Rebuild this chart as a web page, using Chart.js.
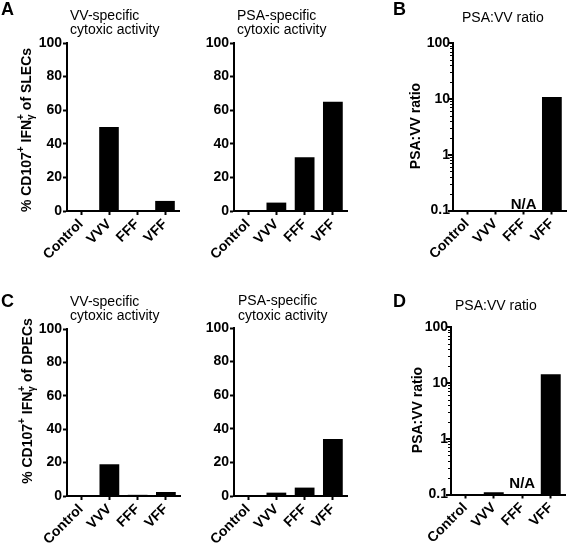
<!DOCTYPE html>
<html>
<head>
<meta charset="utf-8">
<script src="https://cdn.jsdelivr.net/npm/chart.js@4.4.1/dist/chart.umd.min.js"></script>
<style>
  html, body { margin: 0; padding: 0; background: #fff; }
  #wrap { position: relative; width: 567px; height: 543px; overflow: hidden; }
  #wrap canvas { position: absolute; left: 0; top: 0; }
</style>
</head>
<body>
<div id="wrap"></div>
<script>
// ---------------- data ----------------
const categories = ['Control', 'VVV', 'FFF', 'VFF'];
const slecVV    = [0, 50, 0, 6];
const slecPSA   = [0, 5, 32, 65];
const slecRatio = [null, 0.1, null, 10.8];   // FFF = N/A
const dpecVV    = [0, 19, 0.7, 2.4];
const dpecPSA   = [0, 2, 5, 34];
const dpecRatio = [null, 0.11, null, 14.2];  // FFF = N/A
const linearTickLabels = [0, 20, 40, 60, 80, 100];
const logTickLabels = [0.1, 1, 10, 100];
const naLabel = 'N/A';

// ---------------- layout / styles ----------------
const PAGE_W = 567, PAGE_H = 543;
const FONT = '"Liberation Sans", Arial, Helvetica, sans-serif';
Chart.defaults.font.family = FONT;
Chart.defaults.color = '#000';

const ySLEC = [{t:'% CD107'},{t:'+',sup:true},{t:' IFN'},{t:'γ',sub:true},{t:'+',sup:true,back:true},{t:' of SLECs'}];
const yDPEC = [{t:'% CD107'},{t:'+',sup:true},{t:' IFN'},{t:'γ',sub:true},{t:'+',sup:true,back:true},{t:' of DPECs'}];
const yRatio = [{t:'PSA:VV ratio'}];

const panels = [
  { data: slecVV,  log: false, area: {l: 67,  r: 179, t: 43,  b: 211},
    title: ['VV-specific', 'cytoxic activity'], titleX: 70, titleY: [20, 34],
    letter: 'A', letterXY: [1, 15], yTitle: ySLEC, yTitleXY: [26, 130] },
  { data: slecPSA, log: false, area: {l: 234, r: 347, t: 43,  b: 211},
    title: ['PSA-specific', 'cytoxic activity'], titleX: 237, titleY: [20, 34] },
  { data: slecRatio, log: true, area: {l: 453, r: 566, t: 43, b: 210.5},
    title: ['PSA:VV ratio'], titleX: 462, titleY: [22],
    letter: 'B', letterXY: [393, 15], yTitle: yRatio, yTitleXY: [415, 126],
    na: 2, naY: 209 },
  { data: dpecVV,  log: false, area: {l: 67,  r: 180, t: 329, b: 496},
    title: ['VV-specific', 'cytoxic activity'], titleX: 70, titleY: [306, 320],
    letter: 'C', letterXY: [1, 307], yTitle: yDPEC, yTitleXY: [27, 401] },
  { data: dpecPSA, log: false, area: {l: 234, r: 347, t: 328, b: 496},
    title: ['PSA-specific', 'cytoxic activity'], titleX: 238, titleY: [305, 320] },
  { data: dpecRatio, log: true, area: {l: 451, r: 565, t: 327, b: 494.5},
    title: ['PSA:VV ratio'], titleX: 455, titleY: [310],
    letter: 'D', letterXY: [393, 307], yTitle: yRatio, yTitleXY: [417, 410],
    na: 2, naY: 488 }
];

const Y_W = 45;

function drawRich(ctx, segs, cx, cy, rot, size) {
  const mainFont = 'bold ' + size + 'px ' + FONT;
  const smallFont = 'bold ' + Math.round(size * 0.72) + 'px ' + FONT;
  const items = [];
  let total = 0, prevW = 0;
  for (const s of segs) {
    ctx.font = (s.sup || s.sub) ? smallFont : mainFont;
    const w = ctx.measureText(s.t).width;
    let x = total;
    if (s.back) { x = total - prevW; }
    items.push({s, x, w});
    total = Math.max(total, x + w);
    prevW = w;
  }
  ctx.save();
  ctx.translate(cx, cy);
  ctx.rotate(rot);
  ctx.textAlign = 'left';
  ctx.textBaseline = 'alphabetic';
  ctx.fillStyle = '#000';
  const base = size * 0.36;
  for (const it of items) {
    const s = it.s;
    ctx.font = (s.sup || s.sub) ? smallFont : mainFont;
    let dy = base;
    if (s.sup) dy = base - size * 0.5;
    if (s.sub) dy = base + size * 0.18;
    ctx.fillText(s.t, -total / 2 + it.x, dy);
  }
  ctx.restore();
}

const decoPlugin = {
  id: 'panelDeco',
  afterDraw(chart, args, opts) {
    const p = opts.panel;
    const ctx = chart.ctx;
    ctx.save();
    // log-axis tick marks: major at each decade, minor at 2..9 x decade
    if (p.log) {
      const ys = chart.scales.y;
      const ax = Math.round(chart.chartArea.left);
      ctx.fillStyle = '#000';
      const e0 = Math.round(Math.log10(ys.min)), e1 = Math.round(Math.log10(ys.max));
      for (let e = e0; e <= e1; e++) {
        for (let m = 1; m <= 9; m++) {
          const v = m * Math.pow(10, e);
          if (v > ys.max * 1.0001) break;
          const py = Math.round(ys.getPixelForValue(v));
          if (m === 1) ctx.fillRect(ax - 5, py - 1, 5, 2);
          else ctx.fillRect(ax - 3, py, 3, 1);
        }
      }
    }
    // titles
    ctx.fillStyle = '#000';
    ctx.textAlign = 'left';
    ctx.textBaseline = 'alphabetic';
    ctx.font = '14px ' + FONT;
    p.title.forEach((line, i) => ctx.fillText(line, p.titleX, p.titleY[i]));
    // panel letter
    if (p.letter) {
      ctx.font = 'bold 18px ' + FONT;
      ctx.fillText(p.letter, p.letterXY[0], p.letterXY[1]);
    }
    // y axis title
    if (p.yTitle) {
      drawRich(ctx, p.yTitle, p.yTitleXY[0], p.yTitleXY[1], -Math.PI / 2, 14);
    }
    // N/A label
    if (p.na !== undefined) {
      const xs = chart.scales.x;
      ctx.font = 'bold 15px ' + FONT;
      ctx.textAlign = 'center';
      ctx.fillText(naLabel, xs.getPixelForValue(p.na), p.naY);
    }
    ctx.restore();
  }
};

const wrap = document.getElementById('wrap');
panels.forEach((p) => {
  const cv = document.createElement('canvas');
  cv.width = PAGE_W; cv.height = PAGE_H;
  cv.style.width = PAGE_W + 'px'; cv.style.height = PAGE_H + 'px';
  wrap.appendChild(cv);

  const a = p.area;
  const xH = Math.min(70, Math.floor(PAGE_H - a.b));
  const yScale = p.log ? {
    type: 'logarithmic', min: 0.1, max: 100,
    afterFit: (s) => { s.width = Y_W; },
    border: { display: true, color: '#000', width: 2 },
    grid: { display: true, drawOnChartArea: false, drawTicks: false },
    ticks: {
      autoSkip: false, padding: 3,
      font: { size: 14, weight: 'bold' }, color: '#000',
      callback: (v) => logTickLabels.some(t => Math.abs(t - v) < 1e-9) ? String(v) : ''
    }
  } : {
    type: 'linear', min: 0, max: 100,
    afterFit: (s) => { s.width = Y_W; },
    border: { display: true, color: '#000', width: 2 },
    grid: { display: true, drawOnChartArea: false, drawTicks: true, tickLength: 4, tickWidth: 2, tickColor: '#000' },
    ticks: {
      stepSize: 20, padding: 1, autoSkip: false,
      font: { size: 14, weight: 'bold' }, color: '#000',
      callback: (v) => linearTickLabels.includes(v) ? String(v) : ''
    }
  };

  new Chart(cv, {
    type: 'bar',
    data: {
      labels: categories,
      datasets: [{
        data: p.data,
        backgroundColor: '#000',
        borderWidth: 0,
        barPercentage: 0.7,
        categoryPercentage: 1.0
      }]
    },
    options: {
      responsive: false,
      animation: false,
      events: [],
      devicePixelRatio: 1,
      layout: {
        padding: {
          left: a.l - Y_W,
          right: PAGE_W - a.r,
          top: a.t,
          bottom: PAGE_H - a.b - xH
        }
      },
      plugins: {
        legend: { display: false },
        title: { display: false },
        tooltip: { enabled: false },
        panelDeco: { panel: p }
      },
      scales: {
        x: {
          type: 'category',
          offset: true,
          afterFit: (s) => { s.height = xH; },
          border: { display: true, color: '#000', width: 2 },
          grid: { display: true, offset: false, drawOnChartArea: false, drawTicks: true, tickLength: 4, tickWidth: 2, tickColor: '#000' },
          ticks: {
            autoSkip: false, minRotation: 45, maxRotation: 45, padding: 1,
            font: { size: 14, weight: 'bold' }, color: '#000'
          }
        },
        y: yScale
      }
    },
    plugins: [decoPlugin]
  });
});
</script>
</body>
</html>
